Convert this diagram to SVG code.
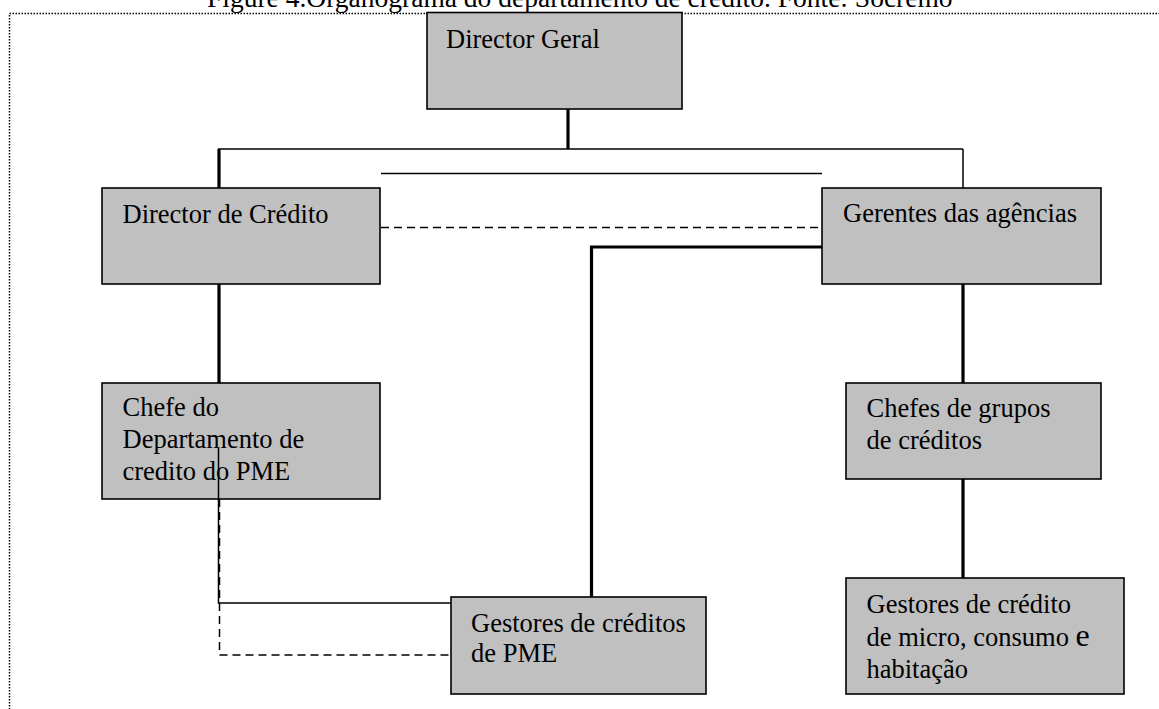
<svg xmlns="http://www.w3.org/2000/svg" width="1159" height="709" viewBox="0 0 1159 709">
  <style>
    .box { fill: #c0c0c0; stroke: #000; stroke-width: 1.6; }
    .lbl { font-family: "Liberation Serif", "Times New Roman", serif; font-size: 26.5px; fill: #000; }
    .cap { font-family: "Liberation Serif", "Times New Roman", serif; font-size: 27.5px; fill: #000; }
    .thick { stroke: #000; stroke-width: 3.2; fill: none; }
    .thin { stroke: #000; stroke-width: 1.5; fill: none; }
    .dash { stroke: #000; stroke-width: 1.5; fill: none; stroke-dasharray: 8 5; }
    .frame { stroke: #000; stroke-width: 1.5; fill: none; stroke-dasharray: 1.5 1.5; }
  </style>
  <rect width="1159" height="709" fill="#fff"/>

  <!-- caption and dotted frame -->
  <text class="cap" x="207" y="7">Figure 4.Organograma do departamento de crédito. Fonte: Socremo</text>
  <path class="frame" d="M1160,13.5 H9.5 V710"/>

  <g id="director-geral">
    <rect class="box" x="427" y="12.5" width="255" height="96.5"/>
    <text class="lbl" x="446" y="48">Director Geral</text>
  </g>

  <g id="director-credito">
    <rect class="box" x="102" y="188" width="278" height="96"/>
    <text class="lbl" x="122.5" y="222.5">Director de Crédito</text>
  </g>

  <g id="gerentes-agencias">
    <rect class="box" x="822" y="188" width="279" height="96"/>
    <text class="lbl" x="843" y="222">Gerentes das agências</text>
  </g>

  <g id="chefe-departamento">
    <rect class="box" x="102" y="383" width="278" height="116"/>
    <text class="lbl" x="122.5" y="416">Chefe do</text>
    <text class="lbl" x="122.5" y="448">Departamento de</text>
    <text class="lbl" x="122.5" y="480">credito do PME</text>
  </g>

  <g id="chefes-grupos">
    <rect class="box" x="846" y="383" width="255" height="96"/>
    <text class="lbl" x="866.5" y="417">Chefes de grupos</text>
    <text class="lbl" x="866.5" y="449">de créditos</text>
  </g>

  <g id="gestores-pme">
    <rect class="box" x="451" y="597" width="255" height="97"/>
    <text class="lbl" x="471" y="632">Gestores de créditos</text>
    <text class="lbl" x="471" y="662">de PME</text>
  </g>

  <g id="gestores-micro">
    <rect class="box" x="846" y="578" width="278" height="116"/>
    <text class="lbl" x="866.5" y="613">Gestores de crédito</text>
    <text class="lbl" x="866.5" y="646">de micro, consumo <tspan font-size="32">e</tspan></text>
    <text class="lbl" x="866.5" y="678">habitação</text>
  </g>

  <g id="connectors">
    <!-- top level branch -->
    <line class="thick" x1="568" y1="109" x2="568" y2="149"/>
    <line class="thin" x1="218" y1="149" x2="963" y2="149"/>
    <line class="thick" x1="219" y1="149" x2="219" y2="188"/>
    <line class="thin" x1="963" y1="149" x2="963" y2="188"/>
    <line class="thin" x1="381" y1="173.5" x2="822" y2="173.5"/>
    <!-- staff link between directors -->
    <line class="dash" x1="381" y1="227.5" x2="820" y2="227.5"/>
    <!-- agencies to PME managers -->
    <path class="thick" d="M822,247 H591.5 V597"/>
    <!-- vertical chains -->
    <line class="thick" x1="219" y1="284" x2="219" y2="383"/>
    <line class="thick" x1="963" y1="284" x2="963" y2="383"/>
    <line class="thick" x1="963" y1="479" x2="963" y2="578"/>
    <!-- PME department to PME managers -->
    <path class="thin" d="M218.5,448 V603 H451"/>
    <path class="dash" d="M219.5,499 V655 H449"/>
  </g>
</svg>
